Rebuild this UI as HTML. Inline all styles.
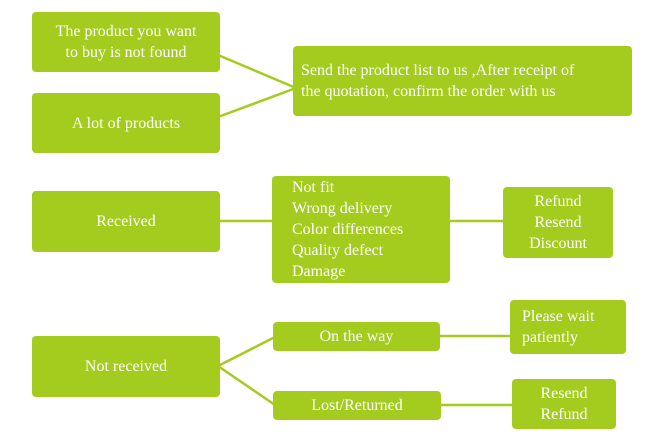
<!DOCTYPE html>
<html><head><style>
body{margin:0;width:666px;height:438px;background:#fff;position:relative;overflow:hidden;font-family:"Liberation Serif",serif;}
.b{position:absolute;background:#a4cc1f;border-radius:4px;color:#fff;font-size:16px;line-height:21px;display:flex;align-items:center;justify-content:center;text-align:center;box-sizing:border-box;}
.l{justify-content:flex-start;text-align:left;}
</style></head><body>
<svg width="666" height="438" style="position:absolute;left:0;top:0">
<g stroke="#a4cc1f" stroke-width="2.5" fill="none">
<line x1="218" y1="55" x2="296" y2="88"/>
<line x1="218" y1="117" x2="296" y2="88"/>
<line x1="218" y1="221" x2="274" y2="221"/>
<line x1="448" y1="221" x2="505" y2="221"/>
<line x1="218" y1="366" x2="275" y2="337"/>
<line x1="218" y1="366" x2="275" y2="405"/>
<line x1="438" y1="336" x2="512" y2="336"/>
<line x1="439" y1="405" x2="514" y2="405"/>
</g></svg>
<div class="b" style="left:32px;top:12px;width:188px;height:60px;">The product you want<br>to buy is not found</div>
<div class="b" style="left:32px;top:93px;width:188px;height:60px;">A lot of products</div>
<div class="b l" style="left:293px;top:46px;width:339px;height:70px;padding-left:8px;">Send the product list to us ,After receipt of<br>the quotation, confirm the order with us</div>
<div class="b" style="left:32px;top:191px;width:188px;height:61px;">Received</div>
<div class="b l" style="left:272px;top:176px;width:178px;height:107px;padding-left:20px;">Not fit<br>Wrong delivery<br>Color differences<br>Quality defect<br>Damage</div>
<div class="b" style="left:503px;top:187px;width:110px;height:71px;">Refund<br>Resend<br>Discount</div>
<div class="b" style="left:32px;top:336px;width:188px;height:61px;">Not received</div>
<div class="b" style="left:273px;top:322px;width:167px;height:29px;">On the way</div>
<div class="b" style="left:273px;top:391px;width:168px;height:29px;">Lost/Returned</div>
<div class="b l" style="left:510px;top:300px;width:116px;height:54px;padding-left:12px;">Please wait<br>patiently</div>
<div class="b" style="left:512px;top:379px;width:104px;height:50px;">Resend<br>Refund</div>
</body></html>
